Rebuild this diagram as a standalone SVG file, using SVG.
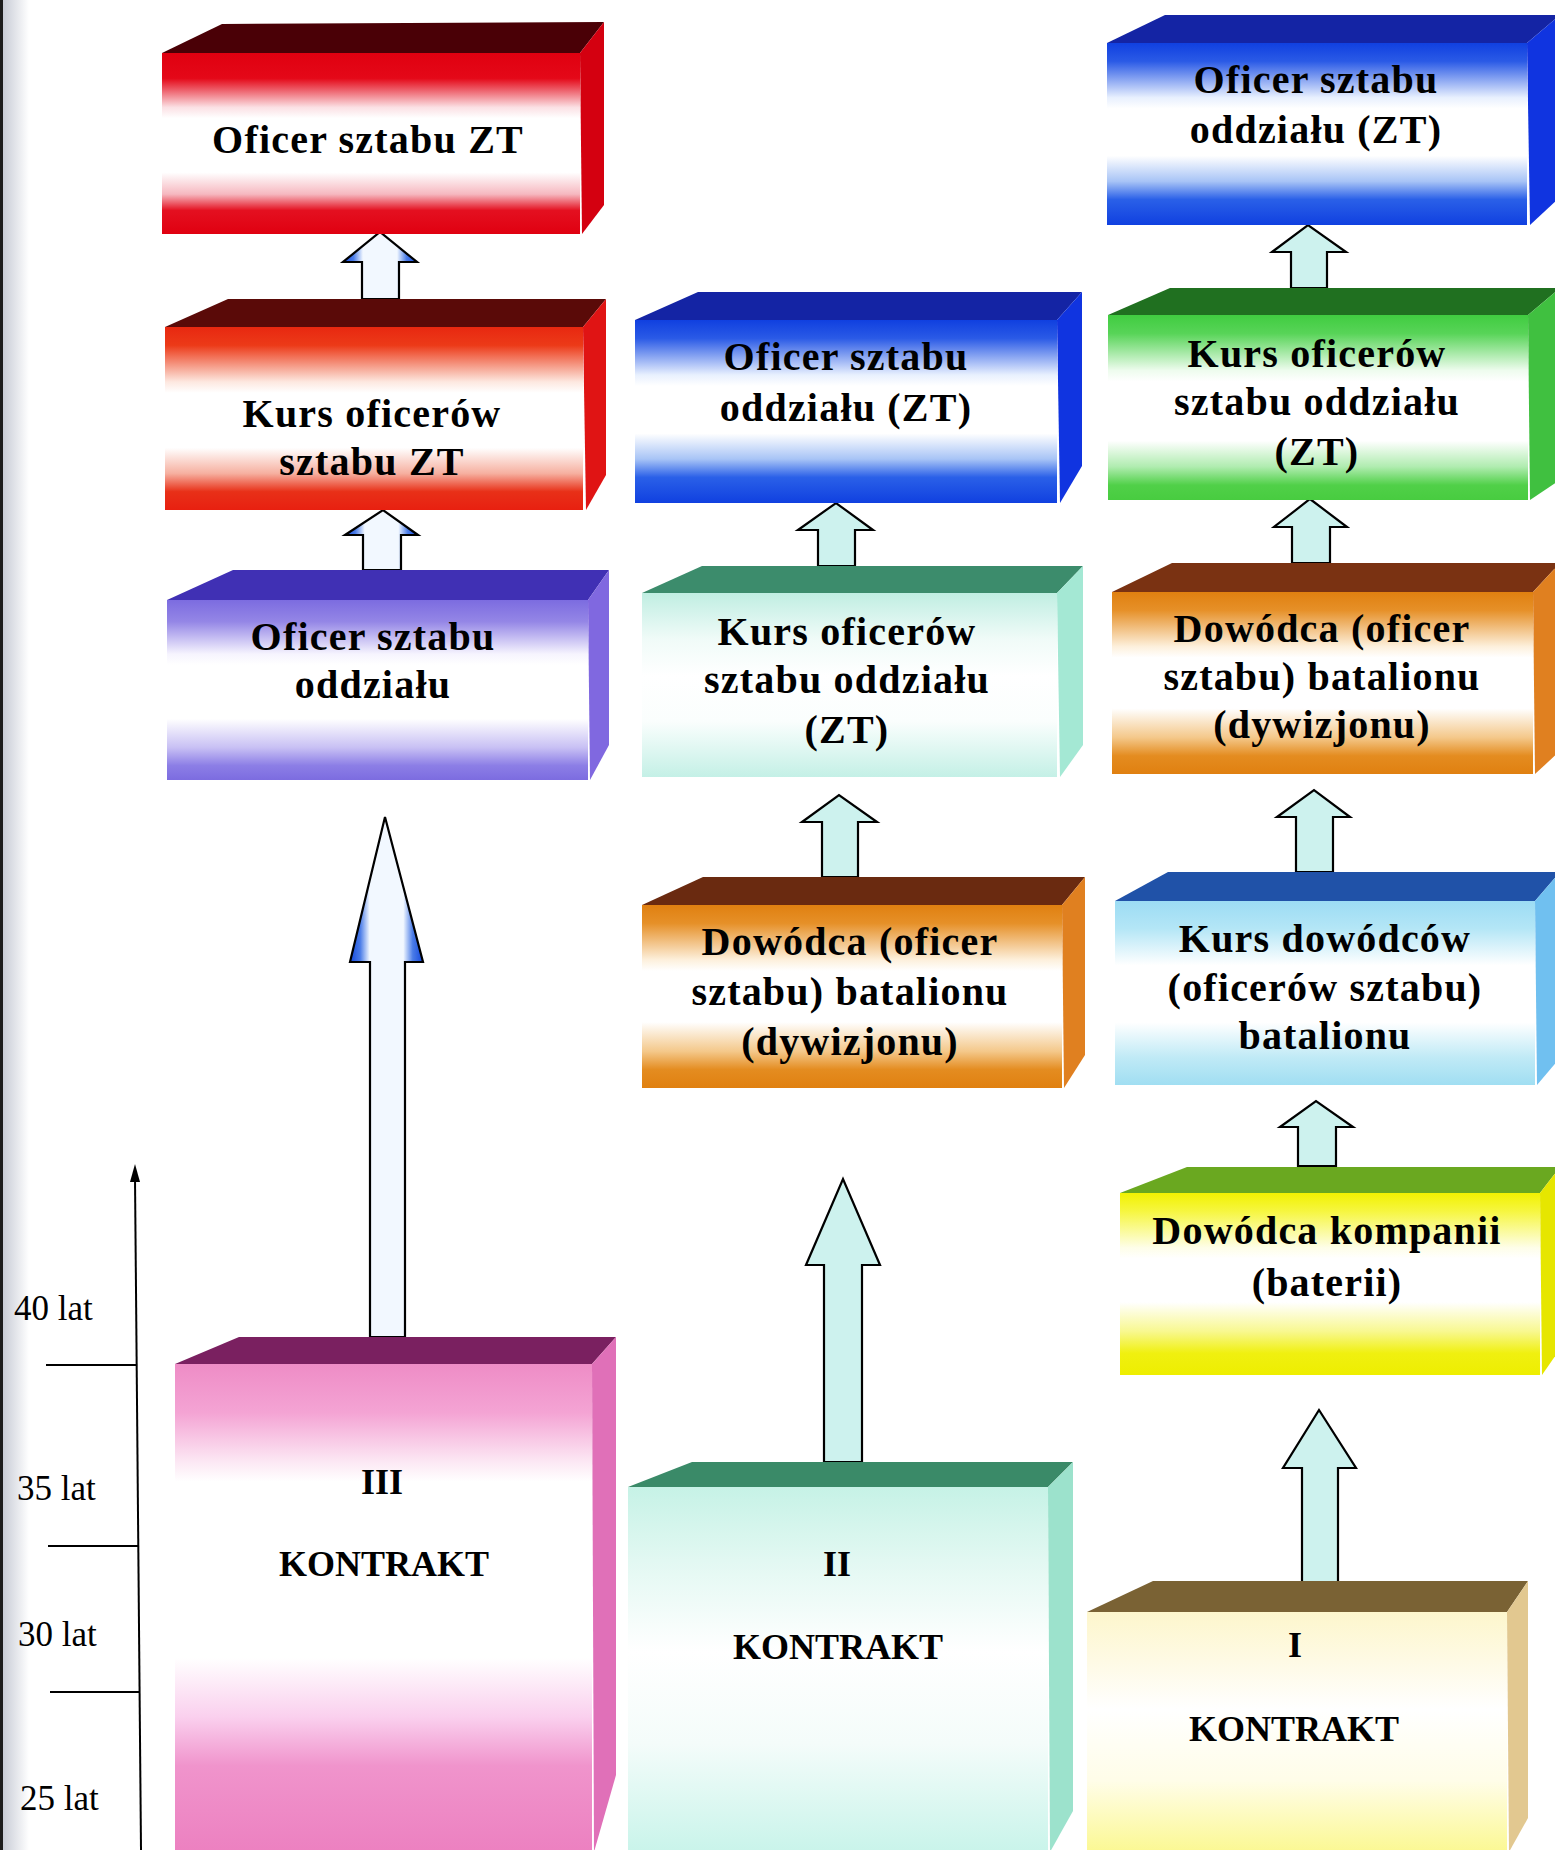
<svg xmlns="http://www.w3.org/2000/svg" width="1555" height="1850" viewBox="0 0 1555 1850">
<style>
.lbl{font-family:"Liberation Serif","Times New Roman",serif;font-weight:bold;font-size:40px;letter-spacing:1.2px;text-anchor:middle;fill:#000}
.kon{font-family:"Liberation Serif","Times New Roman",serif;font-weight:bold;font-size:36px;text-anchor:middle;fill:#000}
.age{font-family:"Liberation Serif","Times New Roman",serif;font-size:35px;fill:#000}
.arr{stroke:#000;stroke-width:2.2;stroke-linejoin:miter}
.mint{fill:#cdf2ee}
.tick{stroke:#000;stroke-width:2;fill:none}
</style>
<defs>
<linearGradient id="gRed" x1="0" y1="0" x2="0" y2="1"><stop offset="0" stop-color="#e00010"/><stop offset="0.14" stop-color="#e40818"/><stop offset="0.3" stop-color="#fbe0e4"/><stop offset="0.36" stop-color="#fff"/><stop offset="0.66" stop-color="#fff"/><stop offset="0.78" stop-color="#f6b8c0"/><stop offset="0.87" stop-color="#e41020"/><stop offset="1" stop-color="#e00010"/></linearGradient>
<linearGradient id="gRedO" x1="0" y1="0" x2="0" y2="1"><stop offset="0" stop-color="#e82810"/><stop offset="0.1" stop-color="#ec3a18"/><stop offset="0.3" stop-color="#fde8e0"/><stop offset="0.36" stop-color="#fff"/><stop offset="0.66" stop-color="#fff"/><stop offset="0.8" stop-color="#f6b0a0"/><stop offset="0.9" stop-color="#e83018"/><stop offset="1" stop-color="#e82010"/></linearGradient>
<linearGradient id="gPur" x1="0" y1="0" x2="0" y2="1"><stop offset="0" stop-color="#7c6ce0"/><stop offset="0.12" stop-color="#9486e6"/><stop offset="0.3" stop-color="#f6f4fe"/><stop offset="0.36" stop-color="#fff"/><stop offset="0.66" stop-color="#fff"/><stop offset="0.82" stop-color="#c8c0f4"/><stop offset="0.92" stop-color="#8c7ee6"/><stop offset="1" stop-color="#7c6ce0"/></linearGradient>
<linearGradient id="gBlue" x1="0" y1="0" x2="0" y2="1"><stop offset="0" stop-color="#1040e0"/><stop offset="0.1" stop-color="#2a5ae6"/><stop offset="0.3" stop-color="#e8f0fe"/><stop offset="0.36" stop-color="#fff"/><stop offset="0.62" stop-color="#fff"/><stop offset="0.76" stop-color="#a8c4f6"/><stop offset="0.86" stop-color="#2a60e8"/><stop offset="1" stop-color="#1040e0"/></linearGradient>
<linearGradient id="gMint" x1="0" y1="0" x2="0" y2="1"><stop offset="0" stop-color="#c0eee2"/><stop offset="0.25" stop-color="#f0fbf8"/><stop offset="0.45" stop-color="#fff"/><stop offset="0.7" stop-color="#fafefd"/><stop offset="1" stop-color="#c4f0e6"/></linearGradient>
<linearGradient id="gMint2" x1="0" y1="0" x2="0" y2="1"><stop offset="0" stop-color="#c6f2e6"/><stop offset="0.2" stop-color="#e2f8f2"/><stop offset="0.45" stop-color="#fff"/><stop offset="0.7" stop-color="#f4fcfa"/><stop offset="1" stop-color="#c8f4ea"/></linearGradient>
<linearGradient id="gOr" x1="0" y1="0" x2="0" y2="1"><stop offset="0" stop-color="#e08010"/><stop offset="0.1" stop-color="#e69028"/><stop offset="0.3" stop-color="#fdf0dc"/><stop offset="0.36" stop-color="#fff"/><stop offset="0.64" stop-color="#fff"/><stop offset="0.8" stop-color="#f4c88a"/><stop offset="0.9" stop-color="#e48c20"/><stop offset="1" stop-color="#e08010"/></linearGradient>
<linearGradient id="gPink" x1="0" y1="0" x2="0" y2="1"><stop offset="0" stop-color="#ee8cc6"/><stop offset="0.1" stop-color="#f4a4d4"/><stop offset="0.2" stop-color="#fce8f4"/><stop offset="0.24" stop-color="#fff"/><stop offset="0.6" stop-color="#fff"/><stop offset="0.72" stop-color="#fad0ee"/><stop offset="0.82" stop-color="#f094cc"/><stop offset="1" stop-color="#ec80c0"/></linearGradient>
<linearGradient id="gGreen" x1="0" y1="0" x2="0" y2="1"><stop offset="0" stop-color="#40cc40"/><stop offset="0.1" stop-color="#58d458"/><stop offset="0.3" stop-color="#eefcee"/><stop offset="0.36" stop-color="#fff"/><stop offset="0.68" stop-color="#fff"/><stop offset="0.82" stop-color="#b0ecb0"/><stop offset="0.92" stop-color="#50d048"/><stop offset="1" stop-color="#48cc40"/></linearGradient>
<linearGradient id="gLBlue" x1="0" y1="0" x2="0" y2="1"><stop offset="0" stop-color="#9cdcf4"/><stop offset="0.15" stop-color="#b4e6f6"/><stop offset="0.35" stop-color="#fff"/><stop offset="0.66" stop-color="#fff"/><stop offset="0.85" stop-color="#c0eaf6"/><stop offset="1" stop-color="#a0def2"/></linearGradient>
<linearGradient id="gYel" x1="0" y1="0" x2="0" y2="1"><stop offset="0" stop-color="#f2f200"/><stop offset="0.1" stop-color="#f6f640"/><stop offset="0.3" stop-color="#fefee8"/><stop offset="0.36" stop-color="#fff"/><stop offset="0.6" stop-color="#fff"/><stop offset="0.76" stop-color="#f8f890"/><stop offset="0.88" stop-color="#f0f010"/><stop offset="1" stop-color="#eeee00"/></linearGradient>
<linearGradient id="gCream" x1="0" y1="0" x2="0" y2="1"><stop offset="0" stop-color="#fdf6cc"/><stop offset="0.2" stop-color="#fefae4"/><stop offset="0.4" stop-color="#fff"/><stop offset="0.7" stop-color="#fffde8"/><stop offset="1" stop-color="#fbf890"/></linearGradient>
<linearGradient id="gArrA" x1="0" y1="0" x2="1" y2="0"><stop offset="0" stop-color="#1448dc"/><stop offset="0.14" stop-color="#4a7ce8"/><stop offset="0.27" stop-color="#f2f8ff"/><stop offset="0.73" stop-color="#f2f8ff"/><stop offset="0.86" stop-color="#4a7ce8"/><stop offset="1" stop-color="#1448dc"/></linearGradient>
<linearGradient id="gEdge" x1="0" y1="0" x2="1" y2="0"><stop offset="0" stop-color="#c8ccd6"/><stop offset="1" stop-color="#ffffff"/></linearGradient>
</defs>
<rect x="0" y="0" width="1555" height="1850" fill="#fff"/>
<rect x="3" y="0" width="26" height="1850" fill="url(#gEdge)"/>
<rect x="0" y="0" width="3" height="1850" fill="#1c1c1c"/>

<g id="axis">
<line class="tick" x1="135" y1="1178" x2="141" y2="1850"/>
<polygon points="135,1164 130,1182 140,1182" fill="#000"/>
<line class="tick" x1="46" y1="1365" x2="136" y2="1365"/>
<line class="tick" x1="48" y1="1546" x2="138" y2="1546"/>
<line class="tick" x1="50" y1="1692" x2="140" y2="1692"/>
<text class="age" x="14" y="1320">40 lat</text>
<text class="age" x="17" y="1500">35 lat</text>
<text class="age" x="18" y="1646">30 lat</text>
<text class="age" x="20" y="1810">25 lat</text>
</g>

<g id="connectors">
<polygon class="arr" fill="url(#gArrA)" points="362,299 362,262 343,262 380,232 417,262 399,262 399,299"/>
<polygon class="arr" fill="url(#gArrA)" points="363,570 363,535 345,535 383,510 418,535 401,535 401,570"/>
<polygon class="arr" fill="url(#gArrA)" points="370,1337 370,962 350,962 385,817 423,962 405,962 405,1337"/>
<polygon class="arr mint" points="818,566 818,530 798,530 836,503 873,530 855,530 855,566"/>
<polygon class="arr mint" points="822,877 822,822 802,822 839,795 877,822 858,822 858,877"/>
<polygon class="arr mint" points="824,1462 824,1265 806,1265 843,1179 880,1265 862,1265 862,1462"/>
<polygon class="arr mint" points="1291,288 1291,252 1272,252 1308,225 1346,252 1327,252 1327,288"/>
<polygon class="arr mint" points="1292,563 1292,527 1274,527 1310,499 1347,527 1330,527 1330,563"/>
<polygon class="arr mint" points="1296,872 1296,817 1277,817 1314,790 1350,817 1333,817 1333,872"/>
<polygon class="arr mint" points="1298,1166 1298,1127 1280,1127 1316,1101 1353,1127 1336,1127 1336,1166"/>
<polygon class="arr mint" points="1302,1582 1302,1468 1283,1468 1319,1410 1356,1468 1338,1468 1338,1582"/>
</g>

<g id="nodeA1">
<polygon fill="#4a0006" points="162,53 222,24 604,22 580,53"/>
<polygon fill="#d40010" points="580,53 604,22 604,205 582,234"/>
<rect x="162" y="53" width="418" height="181" fill="url(#gRed)"/>
<text class="lbl" x="368" y="153">Oficer sztabu ZT</text>
</g>
<g id="nodeA2">
<polygon fill="#5a0a08" points="165,327 228,299 606,299 583,327"/>
<polygon fill="#e01414" points="583,327 606,299 606,475 586,510"/>
<rect x="165" y="327" width="418" height="183" fill="url(#gRedO)"/>
<text class="lbl" x="372" y="427">Kurs oficerów</text>
<text class="lbl" x="372" y="475">sztabu ZT</text>
</g>
<g id="nodeA3">
<polygon fill="#4030b4" points="167,600 233,570 609,570 588,600"/>
<polygon fill="#8068e0" points="588,600 609,570 609,745 590,780"/>
<rect x="167" y="600" width="421" height="180" fill="url(#gPur)"/>
<text class="lbl" x="373" y="650">Oficer sztabu</text>
<text class="lbl" x="373" y="698">oddziału</text>
</g>
<g id="nodeA4">
<polygon fill="#7a2060" points="175,1364 239,1337 616,1337 592,1364"/>
<polygon fill="#e070b8" points="592,1364 616,1337 616,1775 594,1852"/>
<rect x="175" y="1364" width="417" height="490" fill="url(#gPink)"/>
<text class="kon" x="382" y="1494">III</text>
<text class="kon" x="384" y="1576">KONTRAKT</text>
</g>

<g id="nodeB1">
<polygon fill="#1424a4" points="635,320 698,292 1082,292 1057,320"/>
<polygon fill="#1034e0" points="1057,320 1082,292 1082,466 1060,503"/>
<rect x="635" y="320" width="422" height="183" fill="url(#gBlue)"/>
<text class="lbl" x="846" y="370">Oficer sztabu</text>
<text class="lbl" x="846" y="421">oddziału (ZT)</text>
</g>
<g id="nodeB2">
<polygon fill="#3c8c6c" points="642,593 702,566 1083,566 1057,593"/>
<polygon fill="#a4e8d4" points="1057,593 1083,566 1083,745 1060,777"/>
<rect x="642" y="593" width="415" height="184" fill="url(#gMint)"/>
<text class="lbl" x="847" y="645">Kurs oficerów</text>
<text class="lbl" x="847" y="693">sztabu oddziału</text>
<text class="lbl" x="847" y="743">(ZT)</text>
</g>
<g id="nodeB3">
<polygon fill="#6a2a10" points="642,905 703,877 1085,877 1062,905"/>
<polygon fill="#e08020" points="1062,905 1085,877 1085,1055 1064,1088"/>
<rect x="642" y="905" width="420" height="183" fill="url(#gOr)"/>
<text class="lbl" x="850" y="955">Dowódca (oficer</text>
<text class="lbl" x="850" y="1005">sztabu) batalionu</text>
<text class="lbl" x="850" y="1055">(dywizjonu)</text>
</g>
<g id="nodeB4">
<polygon fill="#3a8a68" points="628,1487 692,1462 1073,1462 1048,1487"/>
<polygon fill="#9ce2cc" points="1048,1487 1073,1462 1073,1811 1050,1852"/>
<rect x="628" y="1487" width="420" height="367" fill="url(#gMint2)"/>
<text class="kon" x="837" y="1576">II</text>
<text class="kon" x="838" y="1659">KONTRAKT</text>
</g>

<g id="nodeC1">
<polygon fill="#1424a4" points="1107,43 1165,15 1560,15 1527,43"/>
<polygon fill="#1034e0" points="1527,43 1560,15 1560,197 1530,225"/>
<rect x="1107" y="43" width="420" height="182" fill="url(#gBlue)"/>
<text class="lbl" x="1316" y="93">Oficer sztabu</text>
<text class="lbl" x="1316" y="143">oddziału (ZT)</text>
</g>
<g id="nodeC2">
<polygon fill="#207020" points="1108,315 1170,288 1560,288 1528,315"/>
<polygon fill="#40c040" points="1528,315 1560,288 1560,480 1530,500"/>
<rect x="1108" y="315" width="420" height="185" fill="url(#gGreen)"/>
<text class="lbl" x="1317" y="367">Kurs oficerów</text>
<text class="lbl" x="1317" y="415">sztabu oddziału</text>
<text class="lbl" x="1317" y="465">(ZT)</text>
</g>
<g id="nodeC3">
<polygon fill="#7a3212" points="1112,592 1172,563 1560,563 1533,592"/>
<polygon fill="#e08020" points="1533,592 1560,563 1560,751 1535,774"/>
<rect x="1112" y="592" width="421" height="182" fill="url(#gOr)"/>
<text class="lbl" x="1322" y="642">Dowódca (oficer</text>
<text class="lbl" x="1322" y="690">sztabu) batalionu</text>
<text class="lbl" x="1322" y="738">(dywizjonu)</text>
</g>
<g id="nodeC4">
<polygon fill="#2052a8" points="1115,901 1168,872 1560,872 1535,901"/>
<polygon fill="#70c0f0" points="1535,901 1560,872 1560,1058 1537,1085"/>
<rect x="1115" y="901" width="420" height="184" fill="url(#gLBlue)"/>
<text class="lbl" x="1325" y="952">Kurs dowódców</text>
<text class="lbl" x="1325" y="1001">(oficerów sztabu)</text>
<text class="lbl" x="1325" y="1049">batalionu</text>
</g>
<g id="nodeC5">
<polygon fill="#6aa820" points="1120,1193 1187,1167 1560,1167 1540,1193"/>
<polygon fill="#e6e600" points="1540,1193 1560,1167 1560,1349 1542,1375"/>
<rect x="1120" y="1193" width="420" height="182" fill="url(#gYel)"/>
<text class="lbl" x="1327" y="1244">Dowódca kompanii</text>
<text class="lbl" x="1327" y="1296">(baterii)</text>
</g>
<g id="nodeC6">
<polygon fill="#7a6234" points="1087,1612 1153,1581 1528,1581 1507,1612"/>
<polygon fill="#e2c890" points="1507,1612 1528,1581 1528,1818 1509,1852"/>
<rect x="1087" y="1612" width="420" height="242" fill="url(#gCream)"/>
<text class="kon" x="1295" y="1657">I</text>
<text class="kon" x="1294" y="1741">KONTRAKT</text>
</g>
</svg>
